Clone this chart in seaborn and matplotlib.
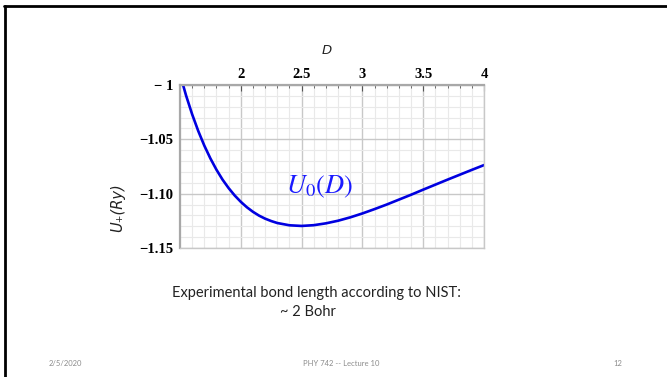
import matplotlib
matplotlib.use("Agg")
import matplotlib.pyplot as plt
from matplotlib.lines import Line2D
from matplotlib.ticker import MultipleLocator, FixedLocator, FixedFormatter
import pandas as pd
import seaborn as sns

# Bond distance D (Bohr) and energy U0(D) (Ry)
D = [1.5, 1.55, 1.6, 1.65, 1.7, 1.75, 1.8, 1.85, 1.9, 1.95, 2.0, 2.05,
     2.1, 2.15, 2.2, 2.25, 2.3, 2.4, 2.5, 2.6, 2.7, 2.8, 2.9, 3.0, 3.1,
     3.2, 3.3, 3.4, 3.5, 3.6, 3.7, 3.8, 3.9, 4.0]
U0 = [-0.9901, -1.0097, -1.0270, -1.0423, -1.0558, -1.0676, -1.0780,
      -1.0871, -1.0949, -1.1017, -1.1075, -1.1125, -1.1167, -1.1202,
      -1.1230, -1.1252, -1.1270, -1.1291, -1.1297, -1.1290, -1.1273,
      -1.1249, -1.1218, -1.1182, -1.1142, -1.1100, -1.1055, -1.1010,
      -1.0963, -1.0917, -1.0871, -1.0826, -1.0781, -1.0737]

x_ticks = [2, 2.5, 3, 3.5, 4]
x_tick_labels = ["2", "2.5", "3", "3.5", "4"]
y_ticks = [-1.0, -1.05, -1.10, -1.15]
y_tick_labels = ["\u2212 1", "\u22121.05", "\u22121.10", "\u22121.15"]

sns.set_style("white")
plt.rcParams["mathtext.fontset"] = "stix"

fig = plt.figure(figsize=(6.67, 3.77), dpi=100)
fig.patch.set_facecolor("white")

ax = fig.add_axes([180 / 667, 1 - 248 / 377, 304 / 667, 163 / 377])
df = pd.DataFrame({"D": D, "U": U0})
sns.lineplot(data=df, x="D", y="U", ax=ax, color="#0000e0", linewidth=1.9)

ax.set_xlim(1.5, 4.0)
ax.set_ylim(-1.15, -1.0)
ax.set_xlabel("")
ax.set_ylabel("")

ax.xaxis.set_major_locator(FixedLocator(x_ticks))
ax.xaxis.set_major_formatter(FixedFormatter(x_tick_labels))
ax.yaxis.set_major_locator(FixedLocator(y_ticks))
ax.yaxis.set_major_formatter(FixedFormatter(y_tick_labels))
ax.xaxis.set_minor_locator(MultipleLocator(0.1))
ax.yaxis.set_minor_locator(MultipleLocator(0.01))
ax.xaxis.tick_top()

ax.grid(which="major", color="#c8c8c8", linewidth=1.0)
ax.grid(which="minor", color="#e9e9e9", linewidth=0.8)
ax.set_axisbelow(True)

for side in ("left", "top"):
    ax.spines[side].set_color("#a8a8a8")
    ax.spines[side].set_linewidth(1.6)
for side in ("right", "bottom"):
    ax.spines[side].set_color("#c8c8c8")
    ax.spines[side].set_linewidth(1.0)

ax.tick_params(axis="x", which="both", direction="in", color="#555555",
               top=True, bottom=False, pad=3)
ax.tick_params(axis="x", which="major", length=4, width=0.8)
ax.tick_params(axis="x", which="minor", length=2.5, width=0.6)
ax.tick_params(axis="y", which="both", direction="out", color="#555555", pad=2)
ax.tick_params(axis="y", which="major", length=3, width=0.8)
ax.tick_params(axis="y", which="minor", length=2, width=0.6)

for lab in ax.get_xticklabels() + ax.get_yticklabels():
    lab.set_fontfamily("Liberation Serif")
    lab.set_fontweight("bold")
    lab.set_fontsize(10.5)
    lab.set_color("black")

ax.text(2.65, -1.094, r"$U_0(D)$", color="#1a1aff", fontsize=19,
        ha="center", va="center")

fig.text(327 / 667, 1 - 50 / 377, "D", fontsize=9.5, style="italic",
         family="DejaVu Sans", color="#222222", ha="center", va="center")
fig.text(118 / 667, 1 - 208 / 377, "U\u208a(Ry)", fontsize=10.5, style="italic",
         family="DejaVu Sans", color="#222222", rotation=90,
         ha="center", va="center")

# slide frame
fig.add_artist(Line2D([4 / 667, 1.0], [1 - 6 / 377, 1 - 6 / 377],
                      color="black", linewidth=2.0))
fig.add_artist(Line2D([5 / 667, 5 / 667], [0.0, 1 - 6 / 377],
                      color="black", linewidth=2.0))

# slide body text
fig.text(316 / 667, 1 - 293 / 377,
         "Experimental bond length according to NIST:",
         fontsize=10.5, family="Lato", color="#222222", ha="center", va="center")
fig.text(308 / 667, 1 - 312 / 377, "~ 2 Bohr",
         fontsize=10.5, family="Lato", color="#222222", ha="center", va="center")

# footer
fig.text(65 / 667, 1 - 363 / 377, "2/5/2020", fontsize=5.5, family="Lato",
         color="#8c8c8c", ha="center", va="center")
fig.text(341 / 667, 1 - 363 / 377, "PHY 742 -- Lecture 10", fontsize=5.5,
         family="Lato", color="#8c8c8c", ha="center", va="center")
fig.text(618 / 667, 1 - 363 / 377, "12", fontsize=5.5, family="Lato",
         color="#8c8c8c", ha="center", va="center")

fig.savefig("out.png", dpi=100, facecolor="white")
